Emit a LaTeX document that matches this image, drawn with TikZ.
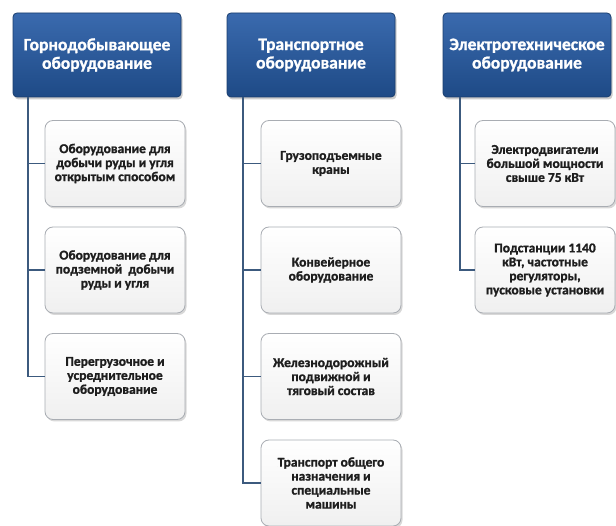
\documentclass[tikz,border=0pt]{standalone}
\usepackage{fontspec}
\setmainfont{Carlito}[BoldFont={Carlito Bold},BoldFeatures={FakeBold=1.2}]
\usetikzlibrary{shadows}
\definecolor{hdtop}{HTML}{3A6AAE}
\definecolor{hdbot}{HTML}{1E4A86}
\definecolor{hdline}{HTML}{1A3E6E}
\definecolor{conn}{HTML}{3C5A7E}
\definecolor{boxline}{HTML}{A9ADB3}
\definecolor{txt}{HTML}{1E1E1E}
\tikzset{
  hdr/.style={draw=hdline, line width=0.8pt, rounded corners=4pt,
    top color=hdtop, bottom color=hdbot, minimum width=168pt, minimum height=84pt,
    text=white, font=\bfseries\fontsize{17.5}{18.5}\selectfont, align=center,
    drop shadow={shadow xshift=1.5pt, shadow yshift=-2.5pt, opacity=0.4}},
  item/.style={draw=boxline, line width=0.8pt, rounded corners=8pt,
    top color=white, bottom color=gray!12, minimum width=140pt, minimum height=86pt,
    text=txt, font=\bfseries\fontsize{13.5}{14}\selectfont, align=center,
    drop shadow={shadow xshift=1.5pt, shadow yshift=-2pt, opacity=0.3}},
  link/.style={draw=conn, line width=1.8pt}
}
\begin{document}
\begin{tikzpicture}[x=1pt,y=-1pt]
\useasboundingbox[fill=white] (0,0) rectangle (616,526);
% headers
\node[hdr] (h1) at (97,55) {Горнодобывающее\\оборудование};
\node[hdr] (h2) at (311,55) {Транспортное\\оборудование};
\node[hdr] (h3) at (527,55) {Электротехническое\\оборудование};
% column 1
\node[item] (a1) at (115,163.5) {Оборудование для\\добычи руды и угля\\открытым способом};
\node[item] (a2) at (115,270) {Оборудование для\\подземной~ добычи\\руды и угля};
\node[item] (a3) at (115,376.5) {Перегрузочное и\\усреднительное\\оборудование};
% column 2
\node[item] (b1) at (331,163.5) {Грузоподъемные\\краны};
\node[item] (b2) at (331,270) {Конвейерное\\оборудование};
\node[item] (b3) at (331,376.5) {Железнодорожный\\подвижной и\\тяговый состав};
\node[item] (b4) at (331,483) {Транспорт общего\\назначения и\\специальные\\машины};
% column 3
\node[item] (c1) at (545,163.5) {Электродвигатели\\большой мощности\\свыше 75 кВт};
\node[item] (c2) at (545,270) {Подстанции 1140\\кВт, частотные\\регуляторы,\\пусковые установки};
% trunks
\coordinate (t1) at ([xshift=-69pt]h1.south);
\coordinate (t2) at ([xshift=-68pt]h2.south);
\coordinate (t3) at ([xshift=-67pt]h3.south);
\draw[link] (t1) |- (a3.west);
\draw[link] (t1) |- (a1.west);
\draw[link] (t1) |- (a2.west);
\draw[link] (t2) |- (b4.west);
\draw[link] (t2) |- (b1.west);
\draw[link] (t2) |- (b2.west);
\draw[link] (t2) |- (b3.west);
\draw[link] (t3) |- (c2.west);
\draw[link] (t3) |- (c1.west);
\end{tikzpicture}
\end{document}
